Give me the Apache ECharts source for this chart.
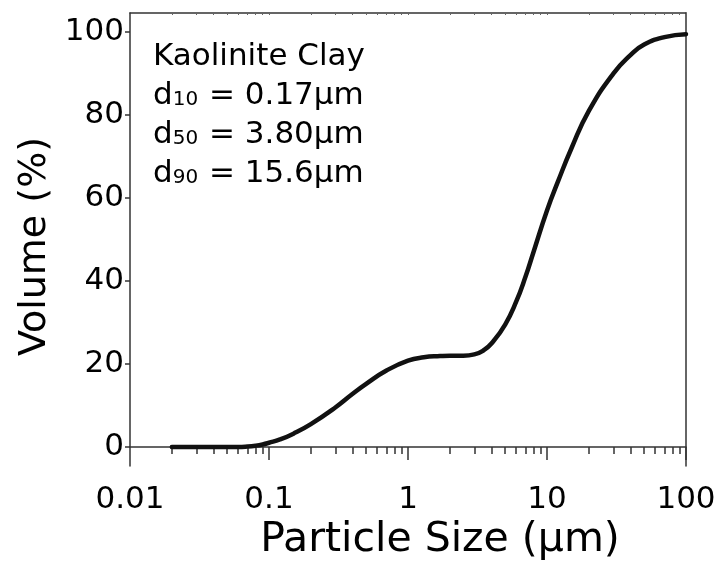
<!DOCTYPE html>
<html>
<head>
<meta charset="utf-8">
<script src="https://cdn.jsdelivr.net/npm/echarts@6/dist/echarts.min.js"></script>
<style>html,body{margin:0;padding:0;background:#fff;}#c{width:720px;height:566px;}</style>
</head>
<body>
<div id="c"></div>
<script>
// Data
const particleSize = [0.02, 0.03, 0.05, 0.06, 0.07, 0.08, 0.09, 0.1, 0.12, 0.15, 0.2, 0.3, 0.4, 0.5, 0.7, 1.0, 1.3, 1.7, 2.0, 2.5, 3.0, 3.5, 4.0, 5.0, 6.0, 7.0, 8.0, 10, 12, 15, 20, 30, 40, 50, 70, 100];
const volumePct    = [0, 0, 0, 0, 0.1, 0.3, 0.6, 1.0, 1.8, 3.2, 5.5, 9.5, 12.8, 15.2, 18.4, 20.8, 21.6, 21.9, 22.0, 22.0, 22.3, 23.3, 25, 29.5, 35, 41, 47, 57, 64, 72, 81, 90, 94.5, 97, 98.8, 99.5];

const xTickValues = [0.01, 0.1, 1, 10, 100];
const xTickLabels = ['0.01', '0.1', '1', '10', '100'];
const xMajorTicks = [0.1, 1, 10, 100];
const xMinorTicks = [];
[0.01, 0.1, 1, 10].forEach(d => { for (let k = 2; k <= 9; k++) xMinorTicks.push(+(d * k).toPrecision(3)); });
const yTickValues = [0, 20, 40, 60, 80, 100];

const annotationTitle = 'Kaolinite Clay';
const annotationRows = [['10', '0.17µm'], ['50', '3.80µm'], ['90', '15.6µm']];

const FONT = 'DejaVu Sans';
const AX = '#333';

const chart = echarts.init(document.getElementById('c'), null, {renderer: 'canvas'});
const annText = '{main|' + annotationTitle + '}\n' + annotationRows.map(r => '{main|d}{sub|' + r[0] + '}{main| = ' + r[1] + '}').join('\n');

chart.setOption({
  animation: false,
  backgroundColor: '#fff',
  title: {
    text: annText,
    left: 153, top: 37, padding: 0,
    textStyle: {
      fontFamily: FONT, fontSize: 31, fontWeight: 'normal', color: '#000', lineHeight: 39,
      rich: {
        main: {fontFamily: FONT, fontSize: 31, color: '#000', lineHeight: 39},
        sub: {fontFamily: FONT, fontSize: 20, color: '#000', lineHeight: 20, verticalAlign: 'bottom', padding: [0, 1, 5, 0]}
      }
    }
  },
  grid: {left: 130, right: 34, top: 13, bottom: 100},
  xAxis: [
    {
      type: 'log', logBase: 10, min: 0.01, max: 100, position: 'bottom',
      axisLine: {show: true, lineStyle: {color: AX, width: 1.5}},
      axisTick: {show: true, inside: false, length: 13, customValues: xMajorTicks, lineStyle: {color: AX, width: 1.5}},
      axisLabel: {show: true, customValues: xTickValues, margin: 18, fontFamily: FONT, fontSize: 31, color: '#000',
        formatter: v => { const i = xTickValues.findIndex(t => Math.abs(Math.log10(t) - Math.log10(v)) < 1e-6); return i >= 0 ? xTickLabels[i] : ''; }},
      splitLine: {show: false}, minorTick: {show: false},
      name: 'Particle Size (µm)', nameLocation: 'middle', nameGap: 50,
      nameTextStyle: {fontFamily: FONT, fontSize: 41, color: '#000', padding: [0, 0, 0, 64]}
    },
    {
      type: 'log', logBase: 10, min: 0.01, max: 100, position: 'bottom', gridIndex: 0,
      axisLine: {show: false},
      axisTick: {show: true, inside: false, length: 7, customValues: xMinorTicks, lineStyle: {color: AX, width: 1.5}},
      axisLabel: {show: false}, splitLine: {show: false}
    },
    {
      type: 'log', logBase: 10, min: 0.01, max: 100, position: 'top', gridIndex: 0,
      axisLine: {show: true, lineStyle: {color: AX, width: 1.5}},
      axisTick: {show: true, inside: true, length: 2, customValues: xMinorTicks.concat(xMajorTicks), lineStyle: {color: '#666', width: 1}},
      axisLabel: {show: false}, splitLine: {show: false}
    }
  ],
  yAxis: [
    {
      type: 'value', min: -4.6, max: 104.6, position: 'left',
      axisLine: {show: true, lineStyle: {color: AX, width: 1.5}},
      axisTick: {show: true, inside: false, length: 5, customValues: yTickValues, lineStyle: {color: AX, width: 1.5}},
      axisLabel: {show: true, customValues: yTickValues, margin: 6, fontFamily: FONT, fontSize: 31, color: '#000'},
      splitLine: {show: false},
      name: 'Volume (%)', nameLocation: 'middle', nameGap: 74, nameRotate: 90,
      nameTextStyle: {fontFamily: FONT, fontSize: 38, color: '#000', padding: [0, 14, 0, 0]}
    },
    {
      type: 'value', min: -4.6, max: 104.6, position: 'right',
      axisLine: {show: true, lineStyle: {color: AX, width: 1.5}},
      axisTick: {show: false}, axisLabel: {show: false}, splitLine: {show: false}
    }
  ],
  series: [{
    type: 'line', xAxisIndex: 0, yAxisIndex: 0,
    data: particleSize.map((x, i) => [x, volumePct[i]]),
    smooth: 0.5, symbol: 'none',
    lineStyle: {color: '#111', width: 4.5, cap: 'round'}
  }]
});
</script>
</body>
</html>
